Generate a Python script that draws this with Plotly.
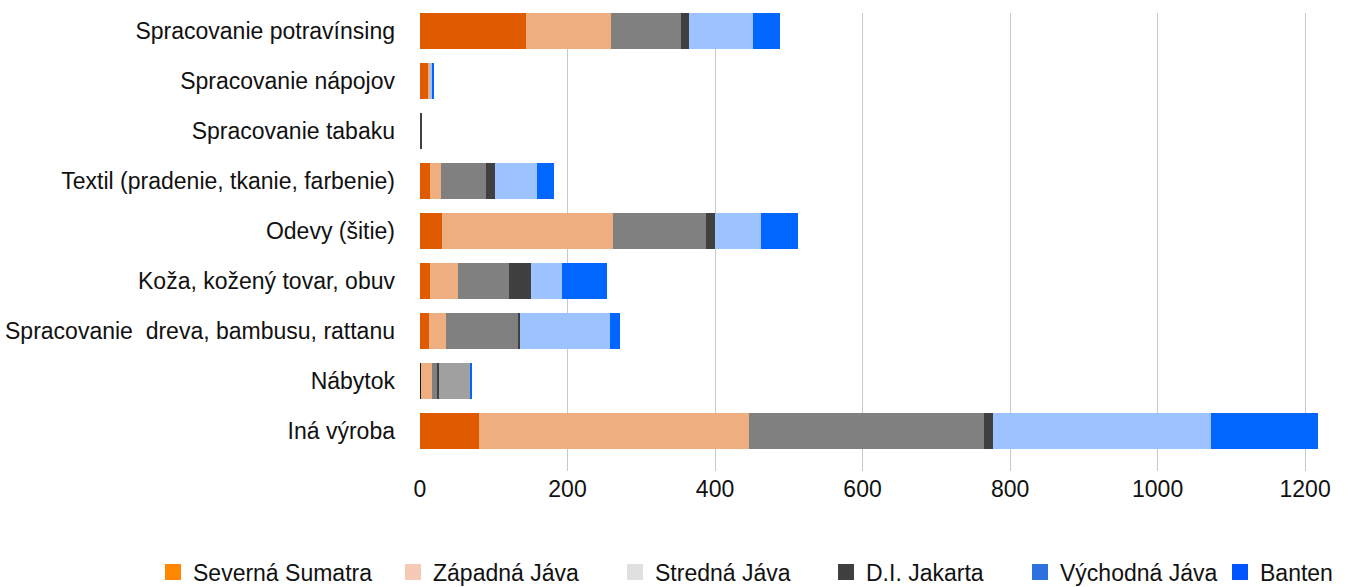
import plotly.graph_objects as go

categories = [
    "Spracovanie potravínsing",
    "Spracovanie nápojov",
    "Spracovanie tabaku",
    "Textil (pradenie, tkanie, farbenie)",
    "Odevy (šitie)",
    "Koža, kožený tovar, obuv",
    "Spracovanie  dreva, bambusu, rattanu",
    "Nábytok",
    "Iná výroba",
]

series_names = ["Severná Sumatra", "Západná Jáva", "Stredná Jáva", "D.I. Jakarta", "Východná Jáva", "Banten"]

severna_sumatra = [144, 11, 0, 14, 30, 14, 12, 1, 80]
zapadna_java = [115, 3, 0, 14, 232, 37, 23, 15, 366]
stredna_java = [95, 0, 1, 62, 126, 69, 99, 8, 319]
di_jakarta = [11, 0, 1, 12, 12, 30, 1.4, 1.4, 12]
vychodna_java = [86, 2.5, 0, 56, 62, 43, 122, 42, 295]
banten = [37, 1.5, 0, 24, 50, 60, 14, 2.7, 145]

series_values = [severna_sumatra, zapadna_java, stredna_java, di_jakarta, vychodna_java, banten]

bar_colors = ["#E05A00", "#EFAE80", "#808080", "#404040", "#9CC3FF", "#0066FF"]
legend_colors = ["#FF8800", "#F5C9B5", "#E0E0E0", "#404040", "#2F70E0", "#0055FF"]

# per-point colour overrides seen in the reference (Nábytok row)
point_colors = []
for i, c in enumerate(bar_colors):
    cols = [c] * len(categories)
    point_colors.append(cols)
point_colors[0][7] = "#1A1A1A"
point_colors[4][7] = "#A0A0A0"

FONT = "Liberation Sans, Arial, sans-serif"
FS = 23

fig = go.Figure()
for i, (name, vals) in enumerate(zip(series_names, series_values)):
    fig.add_trace(go.Bar(
        y=categories, x=vals, orientation="h", name=name,
        marker=dict(color=point_colors[i], line=dict(width=0)),
        showlegend=False, hoverinfo="x+name",
    ))

text_left = [197, 437, 659, 870, 1064, 1264]
for i, name in enumerate(series_names):
    lg = "legend" if i == 0 else f"legend{i+1}"
    fig.add_trace(go.Scatter(
        x=[None], y=[None], mode="markers", name=name,
        marker=dict(symbol="square", size=16, color=legend_colors[i]),
        legend=lg, showlegend=True,
    ))

legend_common = dict(
    orientation="h", xref="container", yref="container",
    yanchor="middle", xanchor="left",
    font=dict(family=FONT, size=FS, color="#111111"),
    bgcolor="rgba(0,0,0,0)", borderwidth=0,
)
layout_legends = {}
for i in range(6):
    key = "legend" if i == 0 else f"legend{i+1}"
    layout_legends[key] = dict(legend_common, x=(text_left[i] - 44) / 1363, y=(587 - 572) / 587)

fig.update_layout(
    width=1363, height=587,
    barmode="stack", bargap=0.28,
    plot_bgcolor="white", paper_bgcolor="white",
    margin=dict(l=420, r=21, t=13, b=116, autoexpand=False),
    font=dict(family=FONT, size=FS, color="#111111"),
    xaxis=dict(
        range=[0, 1250], dtick=200, tick0=0,
        showgrid=True, gridcolor="#C8C8C8", gridwidth=1,
        zeroline=False, showline=False, automargin=False,
        ticks="", ticklabelstandoff=2,
        tickfont=dict(family=FONT, size=FS, color="#111111"),
    ),
    yaxis=dict(
        type="category", range=[8.8, -0.36],
        showgrid=False, zeroline=False, showline=False, automargin=False,
        ticks="", ticklabelstandoff=24,
        tickfont=dict(family=FONT, size=FS, color="#111111"),
    ),
    **layout_legends,
)

fig.write_html("out.html")
